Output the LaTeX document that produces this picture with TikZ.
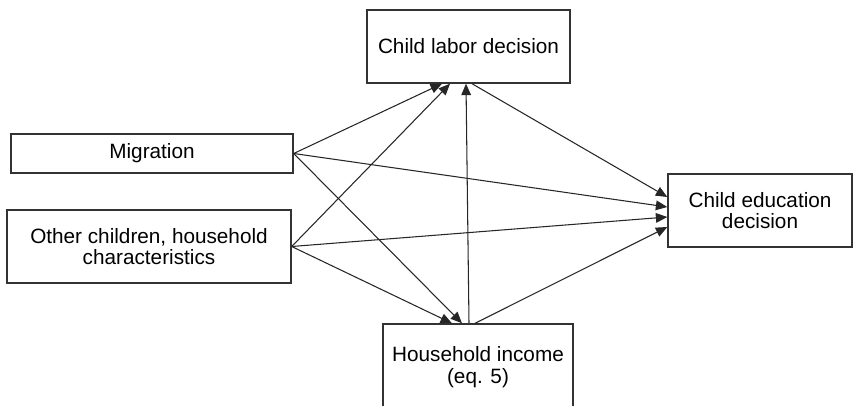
\documentclass[tikz,border=0pt]{standalone}
\usepackage{fontspec}
\setmainfont{Liberation Sans}
\usetikzlibrary{arrows.meta}
\tikzset{
	box/.style={draw=black!80,line width=0.8pt,align=center,inner sep=0pt,font=\fontsize{11.8}{12.4}\selectfont},
	link/.style={draw=black!85,line width=0.6pt,-{Triangle[length=6.5pt,width=5.5pt]}},
}

\begin{document}
\begin{tikzpicture}
				\useasboundingbox (0,0) rectangle (17.1,8.1);
				\clip (0,0) rectangle (17.1,8.1);
				\node[box,minimum width=4.06cm,minimum height=1.46cm] (labor) at (9.37,7.17) {Child labor decision};
				\node[box,minimum width=5.64cm,minimum height=0.78cm] (mig) at (3.04,5.03) {Migration};
				\node[box,minimum width=5.68cm,minimum height=1.46cm] (other) at (2.98,3.17) {Other children, household\\characteristics};
				\node[box,minimum width=3.68cm,minimum height=1.46cm] (edu) at (15.2,3.89) {Child education\\decision};
				\node[box,minimum width=3.8cm,minimum height=1.72cm] (income) at (9.56,0.76) {Household income\\(eq. 5)};
				% from migration
				\draw[link] (mig.east) -- ([xshift=-0.53cm]labor.south);
				\draw[link] (mig.east) -- ([yshift=0.07cm]edu.west);
				\draw[link] (mig.east) -- ([xshift=-0.32cm]income.north);
				% from other characteristics
				\draw[link] (other.east) -- ([xshift=-0.37cm]labor.south);
				\draw[link] (other.east) -- ([yshift=-0.13cm]edu.west);
				\draw[link] (other.east) -- ([xshift=-0.52cm]income.north);
				% income and labor
				\draw[link] ([xshift=-0.18cm]income.north) -- ([xshift=-0.05cm]labor.south);
				\draw[link] ([xshift=0.07cm]labor.south) -- ([yshift=0.27cm]edu.west);
				\draw[link] ([xshift=-0.06cm]income.north) -- ([yshift=-0.33cm]edu.west);
				\end{tikzpicture}
\end{document}
